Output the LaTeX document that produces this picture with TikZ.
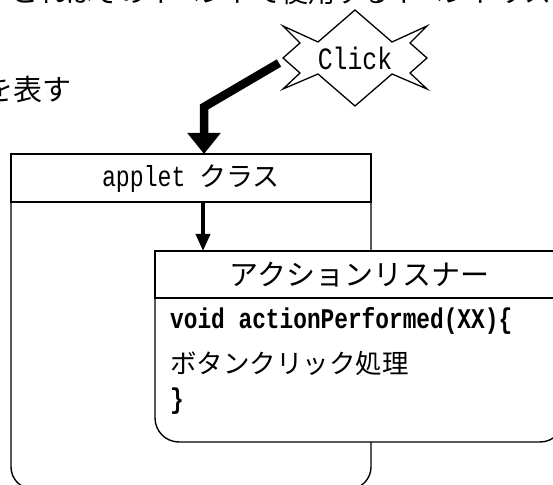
\documentclass[tikz,border=0pt]{standalone}
\usepackage{fontspec}
\setmainfont{Noto Sans CJK JP}
\newfontfamily\lat[FakeStretch=0.8]{Liberation Mono}
\usetikzlibrary{arrows.meta}
\newcommand\fsz[1]{\fontsize{#1}{#1}\selectfont}
\begin{document}
\begin{tikzpicture}[x=1pt,y=1pt,
  boxline/.style={draw, line width=1.4pt},
  head/.style={boxline, fill=white, anchor=north west, inner sep=0pt, outer sep=0pt, text depth=0pt},
  bigarrow/.style={line width=8.5pt, -{Triangle[length=21pt,width=32pt]}},
  smallarrow/.style={line width=3.5pt, -{Triangle[length=17pt,width=14pt]}},
  starshape/.style={draw, line width=1.3pt, fill=white},
  txt/.style={inner sep=0pt, anchor=base west}]
\useasboundingbox (0,0) rectangle (553,484);
\clip (0,0) rectangle (553,484);

% surrounding document text (cut off)
\node[txt] (topline) at (11,481) {\fsz{27}これはそのイベントで使用するイベントリスナー};
\node[txt] (hyou) at (-16,383) {\fsz{29}を表す};

% Click star
\draw[starshape] (355,474) -- (392,442) -- (427,458) -- (410,441) -- (427,426)
  -- (410,411) -- (427,395) -- (392,410) -- (355,378) -- (318,410) -- (283,395)
  -- (300,411) -- (283,426) -- (300,441) -- (283,458) -- (318,442) -- cycle;
\node[inner sep=0pt, anchor=base] (click) at (355,414) {\lat\fsz{31}Click};

% applet class box
\node[head, minimum width=360pt, minimum height=48pt, text height=18pt] (appletHead) at (11,330)
  {\lat\fsz{29}applet \rmfamily\fsz{27}クラス};
\draw[boxline, rounded corners=22pt] (appletHead.south west) -- (11,-5) -- (371,-5) -- (appletHead.south east);

% big arrow from Click
\coordinate (clickTail) at (279,421);
\coordinate (bend) at (204,377);
\draw[bigarrow] (clickTail) -- (bend) -- (appletHead.north -| bend);

% action listener box
\fill[white] (155,42) rectangle (564,233);
\node[head, minimum width=409pt, minimum height=47pt, text height=23pt] (listenerHead) at (155,233)
  {\fsz{29}アクションリスナー};
\draw[boxline, rounded corners=24pt] (listenerHead.south west) -- (155,42) -- (564,42) -- (listenerHead.south east);

% small arrow
\coordinate (ax) at (203,0);
\draw[smallarrow] (appletHead.south -| ax) -- (listenerHead.north -| ax);

% body text
\node[txt] (line1) at (170,155) {\lat\bfseries\fsz{28.5}void actionPerformed(XX)\{};
\node[txt] (line2) at (170,110) {\fsz{26.5}ボタンクリック処理};
\node[txt] (line3) at (170,75) {\lat\bfseries\fsz{28.5}\}};
\end{tikzpicture}
\end{document}
